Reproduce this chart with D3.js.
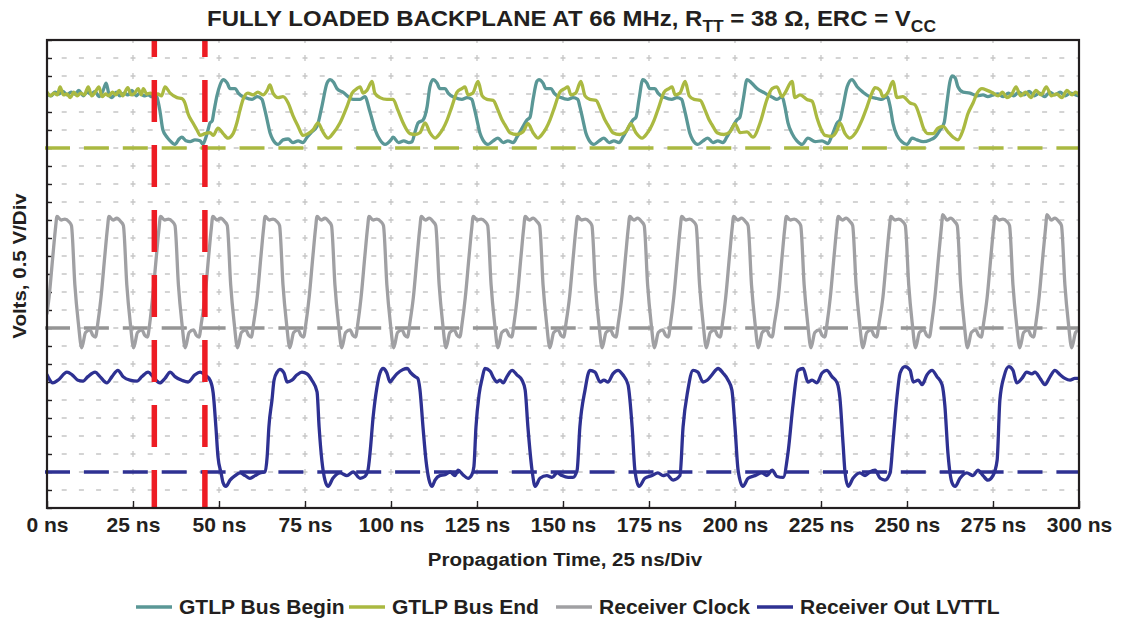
<!DOCTYPE html>
<html><head><meta charset="utf-8">
<script src="https://cdn.jsdelivr.net/npm/d3@7"></script>
<style>
body{margin:0;background:#fff}
text{font-family:"Liberation Sans",Arial,Helvetica,sans-serif;font-weight:bold;fill:#231f20}
</style>
</head><body>
<svg id="c" width="1122" height="621"></svg>
<script>
// ---------------- DATA ----------------
const xTickValues = [0,25,50,75,100,125,150,175,200,225,250,275,300];
const xTickUnit = " ns";
const titleParts = ["FULLY LOADED BACKPLANE AT 66 MHz, R","TT"," = 38 \u03A9, ERC = V","CC"];
const xTitle = "Propagation Time, 25 ns/Div";
const yTitle = "Volts, 0.5 V/Div";
const seriesNames = ["GTLP Bus Begin","GTLP Bus End","Receiver Clock","Receiver Out LVTTL"];
const seriesColors = ["#5a9796","#aab941","#a0a0a3","#2e3192"];
const refLevels = [20, 10, 2];            // dashed 0-V reference per trace (divisions)
const refColors = ["#aab941","#959595","#2e3192"];
const markerTimes = [31.2, 45.9];         // red dashed cursors (ns)

const gtlpBegin = [[0,23.0],[1.2,22.9],[2.3,23.1],[3.5,23.0],[4.7,23.15],[5.8,22.95],[7.0,23.1],[8.1,23.0],[9.3,23.2],[10.5,22.9],[11.6,23.1],[12.8,23.0],[14.0,23.15],[15.1,22.85],[16.3,23.2],[17.2,23.6],[18.0,23.0],[18.9,22.8],[20.1,23.1],[21.2,22.9],[22.4,23.05],[23.6,22.95],[24.7,23.2],[25.9,22.9],[27.0,23.05],[28.2,22.9],[29.4,22.95],[30.5,22.85],[31.4,23.0],[32.0,22.8],[32.8,22.1],[33.7,21.0],[34.9,20.6],[35.8,20.4],[37.2,20.2],[38.4,20.5],[39.2,20.6],[40.4,20.4],[41.6,20.35],[43.0,20.45],[44.5,20.4],[45.3,20.2],[46.2,20.6],[46.8,21.0],[47.4,21.4],[48.0,21.5],[48.5,22.0],[49.4,22.9],[50.3,23.5],[51.2,23.8],
[52.4,23.6],[53.2,23.3],[54.7,23.3],[55.6,23.05],[57.6,22.8],[59.6,22.7],[61.1,22.85],[62.5,22.7],[63.1,22.3],[64.0,21.55],[64.9,20.8],[65.7,20.45],[67.2,20.2],[68.6,20.45],[70.1,20.5],[71.5,20.3],[73.0,20.4],[74.4,20.3],[75.6,20.6],[77.0,20.9],[78.5,21.2],[79.9,22.3],[81.4,23.6],[82.3,23.8],
[83.3,23.65],[84.3,23.3],[86.0,23.1],[89.0,22.7],[91.0,22.7],[92.4,22.85],[93.9,22.0],[95.4,21.0],[96.8,20.45],[98.3,20.2],[100.0,20.45],[100.6,20.6],[102.2,20.3],[103.7,20.4],[105.2,20.3],[106.1,20.35],[107.0,20.9],[107.9,21.4],[109.3,21.55],[110.5,22.3],[111.3,23.4],[112.2,23.8],
[113.4,23.6],[114.2,23.3],[115.7,23.3],[116.6,23.05],[118.6,22.8],[120.6,22.7],[122.1,22.8],[123.5,22.7],[124.1,22.3],[125.0,21.55],[125.9,20.8],[126.7,20.45],[128.2,20.2],[129.7,20.4],[131.1,20.55],[132.6,20.3],[134.0,20.4],[135.5,20.3],[136.6,20.6],[137.5,20.9],[138.4,21.2],[139.5,21.55],[140.4,21.7],[141.3,22.7],[142.4,23.7],[143.0,23.8],
[144.2,23.6],[145.0,23.3],[146.5,23.3],[147.4,23.05],[149.4,22.8],[151.4,22.7],[152.9,22.8],[154.3,22.7],[154.9,22.3],[155.8,21.55],[156.7,20.8],[157.5,20.45],[159.0,20.2],[160.5,20.4],[161.9,20.55],[163.4,20.3],[164.8,20.4],[166.3,20.3],[167.4,20.6],[168.3,20.9],[169.2,21.2],[170.3,21.55],[171.2,21.7],[172.1,22.7],[173.2,23.8],
[174.4,23.6],[175.2,23.3],[176.7,23.3],[177.6,23.05],[179.6,22.8],[181.6,22.7],[183.1,22.8],[184.5,22.7],[185.1,22.3],[186.0,21.55],[186.9,20.8],[187.7,20.45],[189.2,20.2],[190.7,20.4],[192.1,20.55],[193.6,20.3],[195.0,20.4],[196.5,20.3],[197.6,20.6],[198.5,20.9],[199.4,21.2],[200.5,21.55],[201.4,21.7],[202.4,22.7],[203.5,23.8],
[204.9,23.6],[206.4,23.3],[208.7,23.05],[211.0,22.8],[212.2,22.7],[213.7,22.85],[214.5,22.3],[215.4,21.4],[216.6,20.8],[218.0,20.4],[219.5,20.2],[221.2,20.55],[223.3,20.35],[225.3,20.4],[227.0,20.25],[228.2,20.7],[229.7,21.4],[230.5,21.55],[231.4,22.3],[232.6,23.4],[234.0,23.8],[235.5,23.4],[237.2,23.1],[239.2,22.85],[241.3,22.75],[242.7,22.7],[244.2,22.85],[245.1,22.3],[245.9,21.4],[247.1,20.7],[248.5,20.35],[250.0,20.2],[251.5,20.55],[252.9,20.45],[254.7,20.35],[256.7,20.45],[258.1,20.6],[259.6,21.0],[260.8,21.4],[261.6,22.5],[262.5,23.7],[263.1,24.0],[264.0,23.9],[264.8,23.4],[266.3,23.1],[268.3,23.05],[270.4,22.9],[272.1,22.95],[273.5,22.85],[275.0,22.95],[276.5,23.0],[278.0,22.85],[279.5,23.05],[281.0,22.9],[282.5,23.1],[284.0,22.95],[285.5,23.15],[287.0,22.9],[288.5,23.05],[290.0,22.85],[291.5,23.1],[293.0,22.95],[294.5,23.1],[296.0,22.9],[297.5,23.05],[299.0,22.95],[300,22.9]];

const gtlpEnd = [[0,23.1],[1.0,22.9],[2.0,23.05],[3.0,22.95],[3.8,23.4],[4.8,22.95],[5.8,23.0],[6.8,22.8],[7.8,23.1],[8.8,22.9],[9.8,23.05],[10.8,22.95],[12.0,23.4],[13.0,22.9],[14.0,23.1],[15.1,23.4],[16.0,22.85],[17.0,23.0],[18.0,22.9],[19.0,23.1],[20.0,22.95],[21.0,23.2],[22.0,22.9],[23.5,23.35],[24.5,22.95],[25.5,23.05],[26.5,23.3],[27.4,22.95],[28.0,23.3],[29.0,23.0],[30.0,23.05],[31.2,22.95],[32.2,23.0],[33.3,22.9],[34.3,23.4],
[35.8,23.05],[37.8,22.8],[39.2,22.75],[40.1,22.5],[41.0,21.9],[42.4,21.4],[43.6,21.0],[44.5,20.7],[45.9,20.8],[47.4,20.85],[48.3,20.7],[49.7,21.1],[51.2,20.8],[52.6,20.55],[54.1,20.8],[55.2,21.4],[56.1,22.1],[57.0,22.7],[58.4,23.05],[59.9,22.95],[61.3,23.1],[62.8,22.95],[64.0,23.2],[64.8,23.5],[65.7,23.05],[67.2,22.8],[68.6,22.85],[70.1,22.5],[71.5,21.8],[73.0,21.2],[74.4,20.7],[75.9,20.8],[77.3,21.0],[78.8,21.4],[80.2,20.9],[81.7,20.55],
[83.1,20.8],[85.2,21.4],[87.2,22.3],[88.7,23.05],[90.1,23.3],[91.0,23.4],[91.9,23.05],[93.0,23.2],[94.5,23.7],[95.3,23.05],[96.8,22.8],[98.8,22.7],[100.6,22.7],[102.0,22.1],[103.5,21.4],[105.5,20.8],[107.0,20.75],[108.4,20.85],[109.9,21.4],[111.3,20.85],[112.8,20.55],
[114.2,20.8],[116.3,21.55],[117.7,22.3],[119.2,23.1],[120.6,23.3],[121.5,23.4],[122.4,22.95],[123.8,23.05],[125.3,23.7],[126.5,22.9],[127.9,22.7],[129.7,22.65],[131.1,22.1],[132.3,21.55],[133.1,21.3],[134.6,20.85],[136.6,20.75],[138.4,20.9],[139.8,21.35],[141.3,20.85],[142.7,20.55],
[144.1,20.8],[146.2,21.55],[147.6,22.3],[149.1,23.1],[150.5,23.3],[151.4,23.4],[152.3,22.95],[153.7,23.05],[155.2,23.7],[156.4,22.9],[157.8,22.7],[159.6,22.65],[161.0,22.1],[162.2,21.55],[163.0,21.3],[164.5,20.85],[166.5,20.75],[168.3,20.9],[169.7,21.35],[171.2,20.85],[173.0,20.55],
[174.4,20.8],[176.5,21.55],[177.9,22.3],[179.4,23.1],[180.8,23.3],[181.7,23.4],[182.6,22.95],[184.0,23.05],[185.5,23.7],[186.7,22.9],[188.1,22.7],[189.9,22.65],[191.3,22.1],[192.5,21.55],[193.3,21.3],[194.8,20.85],[196.8,20.75],[198.6,20.9],[200.0,21.35],[201.5,20.85],[203.5,20.9],[205.2,20.6],
[207.3,21.4],[209.3,22.7],[210.8,23.3],[212.2,23.4],[213.7,22.85],[214.5,23.05],[216.6,23.7],[217.4,22.8],[218.9,22.95],[220.9,22.7],[222.4,22.6],[223.8,21.7],[224.7,21.2],[226.2,20.7],[228.2,20.65],[229.7,21.0],[230.5,21.4],[232.0,20.8],[233.4,20.55],
[234.9,20.8],[236.9,21.55],[238.4,22.3],[239.8,23.05],[240.7,23.35],[242.2,23.2],[243.0,22.85],[244.5,23.1],[245.9,23.7],[247.1,22.8],[248.8,22.85],[250.9,22.5],[252.3,22.4],[253.8,21.7],[254.7,21.15],[256.1,20.8],[257.6,20.8],[259.0,21.1],[260.5,21.2],[261.9,20.9],[263.4,20.6],[264.8,20.45],
[266.3,21.0],[267.7,21.9],[269.2,22.5],[270.4,23.05],[271.8,23.3],[273.3,23.2],[275.0,23.05],[276.5,22.9],[277.8,23.1],[279.0,22.8],[280.5,23.0],[281.7,23.4],[283.0,22.9],[284.5,23.1],[286.0,22.8],[287.5,23.2],[289.0,22.95],[290.5,23.4],[292.0,22.9],[293.5,23.0],[295.0,22.8],[296.5,23.2],[298.0,22.95],[299.0,23.1],[300,22.95]];

const receiverClock = [[0,10.8],[0.6,11.7],[1.7,14.0],[2.5,15.6],[2.9,16.2],[4.1,16.0],[5.2,16.05],[6.4,15.9],[7.1,15.7],[8.1,12.4],[9.1,10.3],[10.1,8.9],[11.2,9.75],[12.5,9.9],[13.3,9.6],[14.1,9.5],[14.8,10.3],
[15.7,11.7],[16.8,14.0],[17.6,15.6],[18.0,16.2],[19.2,16.0],[20.3,16.1],[21.5,15.9],[22.2,15.7],[23.2,12.4],[24.2,10.3],[25.2,8.9],[26.3,9.75],[27.6,9.9],[28.4,9.6],[29.2,9.5],[29.9,10.3],
[30.7,11.7],[31.8,14.0],[32.6,15.6],[33.0,16.2],[34.2,16.0],[35.3,16.05],[36.5,15.9],[37.2,15.7],[38.2,12.4],[39.2,10.3],[40.2,8.9],[41.3,9.75],[42.6,9.9],[43.4,9.6],[44.2,9.5],[44.9,10.3],
[45.9,11.7],[47.0,14.0],[47.8,15.6],[48.2,16.2],[49.4,16.0],[50.5,16.1],[51.7,15.9],[52.4,15.7],[53.4,12.4],[54.4,10.3],[55.4,8.9],[56.5,9.75],[57.8,9.9],[58.6,9.6],[59.4,9.5],[60.1,10.3],
[61.1,11.7],[62.2,14.0],[63.0,15.6],[63.4,16.2],[64.6,16.0],[65.7,16.05],[66.9,15.9],[67.6,15.7],[68.6,12.4],[69.6,10.3],[70.6,8.9],[71.7,9.75],[73.0,9.9],[73.8,9.6],[74.6,9.5],[75.3,10.3],
[76.2,11.7],[77.3,14.0],[78.1,15.6],[78.5,16.2],[79.7,16.0],[80.8,16.1],[82.0,15.9],[82.7,15.7],[83.7,12.4],[84.7,10.3],[85.7,8.9],[86.8,9.75],[88.1,9.9],[88.9,9.6],[89.7,9.5],[90.4,10.3],
[91.3,11.7],[92.4,14.0],[93.2,15.6],[93.6,16.2],[94.8,16.0],[95.9,16.05],[97.1,15.9],[97.8,15.7],[98.8,12.4],[99.8,10.3],[100.8,8.9],[101.9,9.75],[103.2,9.9],[104.0,9.6],[104.8,9.5],[105.5,10.3],
[106.5,11.7],[107.6,14.0],[108.4,15.6],[108.8,16.2],[110.0,16.0],[111.1,16.1],[112.3,15.9],[113.0,15.7],[114.0,12.4],[115.0,10.3],[116.0,8.9],[117.1,9.75],[118.4,9.9],[119.2,9.6],[120.0,9.5],[120.7,10.3],
[121.6,11.7],[122.7,14.0],[123.5,15.6],[123.9,16.2],[125.1,16.0],[126.2,16.05],[127.4,15.9],[128.1,15.7],[129.1,12.4],[130.1,10.3],[131.1,8.9],[132.2,9.75],[133.5,9.9],[134.3,9.6],[135.1,9.5],[135.8,10.3],
[136.7,11.7],[137.8,14.0],[138.6,15.6],[139.0,16.2],[140.2,16.0],[141.3,16.1],[142.5,15.9],[143.2,15.7],[144.2,12.4],[145.2,10.3],[146.2,8.9],[147.3,9.75],[148.6,9.9],[149.4,9.6],[150.2,9.5],[150.9,10.3],
[151.9,11.7],[153.0,14.0],[153.8,15.6],[154.2,16.2],[155.4,16.0],[156.5,16.05],[157.7,15.9],[158.4,15.7],[159.4,12.4],[160.4,10.3],[161.4,8.9],[162.5,9.75],[163.8,9.9],[164.6,9.6],[165.4,9.5],[166.1,10.3],
[167.1,11.7],[168.2,14.0],[169.0,15.6],[169.4,16.2],[170.6,16.0],[171.7,16.1],[172.9,15.9],[173.6,15.7],[174.6,12.4],[175.6,10.3],[176.6,8.9],[177.7,9.75],[179.0,9.9],[179.8,9.6],[180.6,9.5],[181.3,10.3],
[182.2,11.7],[183.3,14.0],[184.1,15.6],[184.5,16.2],[185.7,16.0],[186.8,16.05],[188.0,15.9],[188.7,15.7],[189.7,12.4],[190.7,10.3],[191.7,8.9],[192.8,9.75],[194.1,9.9],[194.9,9.6],[195.7,9.5],[196.4,10.3],
[197.3,11.7],[198.4,14.0],[199.2,15.6],[199.6,16.2],[200.8,16.0],[201.9,16.1],[203.1,15.9],[203.8,15.7],[204.8,12.4],[205.8,10.3],[206.8,8.9],[207.9,9.75],[209.2,9.9],[210.0,9.6],[210.8,9.5],[211.5,10.3],
[212.6,11.7],[213.7,14.0],[214.5,15.6],[214.9,16.2],[216.1,16.0],[217.2,16.05],[218.4,15.9],[219.1,15.7],[220.1,12.4],[221.1,10.3],[222.1,8.9],[223.2,9.75],[224.5,9.9],[225.3,9.6],[226.1,9.5],[226.8,10.3],
[227.7,11.7],[228.8,14.0],[229.6,15.6],[230.0,16.2],[231.2,16.0],[232.3,16.1],[233.5,15.9],[234.2,15.7],[235.2,12.4],[236.2,10.3],[237.2,8.9],[238.3,9.75],[239.6,9.9],[240.4,9.6],[241.2,9.5],[241.9,10.3],
[243.0,11.7],[244.1,14.0],[244.9,15.6],[245.3,16.2],[246.5,16.0],[247.6,16.05],[248.8,15.9],[249.5,15.7],[250.5,12.4],[251.5,10.3],[252.5,8.9],[253.6,9.75],[254.9,9.9],[255.7,9.6],[256.5,9.5],[257.2,10.3],
[258.1,11.7],[259.2,14.0],[260.0,15.6],[260.4,16.3],[261.6,16.0],[262.7,16.1],[263.9,15.9],[264.6,15.7],[265.6,12.4],[266.6,10.3],[267.6,8.9],[268.7,9.75],[270.0,9.9],[270.8,9.6],[271.6,9.5],[272.3,10.3],
[273.3,11.7],[274.4,14.0],[275.2,15.6],[275.6,16.2],[276.8,16.0],[277.9,16.05],[279.1,15.9],[279.8,15.7],[280.8,12.4],[281.8,10.3],[282.8,8.9],[283.9,9.75],[285.2,9.9],[286.0,9.6],[286.8,9.5],[287.5,10.3],
[288.4,11.7],[289.5,14.0],[290.3,15.6],[290.7,16.3],[291.9,16.0],[293.0,16.1],[294.2,15.9],[294.9,15.7],[295.9,12.4],[296.9,10.3],[297.9,8.9],[299.0,9.75],[300,9.9]];

const receiverOut = [[0,7.4],[1.7,6.95],[3.2,7.1],[5.8,7.55],[7.3,7.4],[9.0,7.1],[10.5,7.05],[11.9,7.3],[14.0,7.55],[15.4,7.3],[17.4,6.95],[18.9,7.3],[20.6,7.65],[22.1,7.3],[24.1,7.1],[26.2,7.05],[27.6,7.3],[29.4,7.55],[30.8,7.3],[32.8,6.95],[34.3,7.2],[35.8,7.55],[37.2,7.3],[39.2,7.1],[41.0,7.0],[43.0,7.4],[44.5,7.55],[45.9,7.4],[47.4,7.1],[48.3,6.4],[49.1,4.5],[49.7,2.85],[50.6,1.95],[51.2,1.4],[52.0,1.2],[53.2,1.55],[54.7,1.8],[56.1,1.95],[57.6,1.8],[59.0,1.65],[60.5,1.8],[61.9,1.95],[63.4,2.0],[64.0,2.85],[64.5,4.5],[65.4,6.0],[66.0,7.1],[66.9,7.55],[67.7,7.7],[68.9,7.5],[69.8,7.0],[71.2,7.1],[72.7,7.4],[74.1,7.55],[75.6,7.45],[77.0,7.1],[78.5,6.45],[79.1,4.5],[79.9,2.65],[80.8,1.55],[81.7,1.2],[83.1,1.65],[85.2,1.95],[87.2,1.8],[89.0,2.0],[91.0,1.65],[92.4,1.75],[93.3,2.1],[93.9,3.05],[94.8,5.05],[95.9,6.7],[96.8,7.5],[97.7,7.75],[98.8,7.5],[99.7,7.0],[100.6,7.2],[101.7,7.45],[103.5,7.7],[104.7,7.75],[105.8,7.5],[107.0,7.3],[107.8,7.2],[108.4,6.6],[109.3,4.5],[110.2,2.6],[111.0,1.6],[111.9,1.2],[112.8,1.55],[114.2,1.8],[115.7,1.85],[117.2,2.0],[118.6,1.8],[119.5,2.1],[120.9,1.85],[122.4,1.65],[123.5,1.85],[124.1,2.3],[124.7,4.5],[125.6,6.3],[126.5,7.2],[127.3,7.75],[128.8,7.6],[129.9,7.2],[130.8,7.0],[131.7,7.1],[132.6,6.95],[133.7,7.3],[135.2,7.65],[136.6,7.4],[138.1,7.1],[139.0,6.55],[139.8,4.5],[141.0,2.1],[141.9,1.2],[143.3,1.65],[145.3,1.8],[146.8,1.7],[148.3,1.95],[149.7,1.8],[151.5,1.7],[152.9,1.7],[154.1,2.1],[154.9,4.5],[156.4,6.55],[157.8,7.65],[159.3,7.55],[160.8,7.0],[161.9,7.1],[163.1,7.0],[164.5,7.45],[166.0,7.65],[167.4,7.4],[168.9,6.85],[170.1,4.5],[170.9,2.1],[172.1,1.2],[173.8,1.65],[175.9,1.8],[177.6,1.95],[179.1,1.8],[180.2,1.85],[182.0,1.55],[184.0,1.8],[184.9,4.5],[186.3,6.55],[187.8,7.65],[189.2,7.55],[190.7,7.0],[191.9,7.1],[193.3,7.4],[195.1,7.75],[196.5,7.5],[198.0,7.1],[199.1,6.55],[200.0,4.5],[200.9,2.1],[202.3,1.2],[203.8,1.65],[205.8,1.8],[207.8,1.95],[209.3,1.8],[210.8,2.1],[212.2,1.75],[214.0,1.7],[215.4,3.05],[216.9,5.8],[218.3,7.65],[219.8,7.75],[221.2,7.0],[222.4,7.1],[223.8,6.95],[225.3,7.5],[226.7,7.65],[228.2,7.3],[229.7,6.95],[230.5,6.1],[231.4,3.6],[232.0,1.95],[232.9,1.2],[234.3,1.65],[236.3,1.95],[237.8,1.8],[239.2,2.0],[240.7,2.1],[242.2,1.65],[243.6,1.55],[245.1,1.95],[245.9,3.6],[247.1,6.2],[248.0,7.5],[249.4,7.85],[250.9,7.65],[251.8,7.0],[253.3,7.1],[254.4,6.85],[255.8,7.4],[257.3,7.65],[258.7,7.3],[260.2,6.85],[261.0,5.7],[261.9,3.05],[263.1,1.4],[264.0,1.2],[265.4,1.65],[267.4,1.95],[269.2,1.8],[270.6,2.1],[272.1,1.8],[273.5,1.55],[275.0,1.8],[276.2,2.65],[277.0,6.0],[278.2,7.3],[279.6,7.85],[280.8,7.65],[281.9,6.95],[283.4,7.2],[284.8,7.55],[286.3,7.45],[287.2,7.55],[288.7,7.2],[290.1,6.85],[291.6,7.3],[293.0,7.65],[294.5,7.4],[295.9,7.2],[297.4,7.1],[298.8,7.2],[300,7.2]];

// ---------------- LAYOUT ----------------
const svg = d3.select("#c");
const P = {l:47, r:1079, t:40, b:508};
const x = d3.scaleLinear().domain([0,300]).range([P.l, P.r]);
const y = d3.scaleLinear().domain([0,26]).range([P.b, P.t]);
const SX = 1.08;

svg.append("defs").append("clipPath").attr("id","plot")
  .append("rect").attr("x",P.l).attr("y",P.t).attr("width",P.r-P.l).attr("height",P.b-P.t);

// grid
const grid = svg.append("g");
grid.selectAll("line.h").data(y.ticks(26).filter(d=>d>0&&d<26)).join("line")
  .attr("x1",P.l).attr("x2",P.r).attr("y1",d=>y(d)).attr("y2",d=>y(d))
  .attr("stroke","#c6c6c6").attr("stroke-width",1.3)
  .attr("stroke-dasharray","5,12.2").attr("stroke-dashoffset",2.5);
grid.selectAll("line.v").data(xTickValues.slice(1,-1)).join("line")
  .attr("x1",d=>x(d)).attr("x2",d=>x(d)).attr("y1",P.t).attr("y2",P.b)
  .attr("stroke","#c6c6c6").attr("stroke-width",1.3)
  .attr("stroke-dasharray","6,12").attr("stroke-dashoffset",3);

// y ticks (no labels)
const yAx = svg.append("g").attr("transform",`translate(${P.l},0)`)
  .call(d3.axisLeft(y).ticks(26).tickSize(-5).tickFormat(""));
yAx.select(".domain").remove();
yAx.selectAll("line").attr("stroke","#231f20").attr("stroke-width",1.4);

// x axis
const xAx = svg.append("g").attr("transform",`translate(0,${P.b})`)
  .call(d3.axisBottom(x).tickValues(xTickValues).tickSize(-7).tickPadding(10).tickFormat(d=>d+xTickUnit));
xAx.select(".domain").remove();
xAx.selectAll("line").attr("stroke","#231f20").attr("stroke-width",1.4);
xAx.selectAll("text").attr("fill","#231f20").style("font-size","19.5px")
  .style("font-family",'"Liberation Sans",Arial,sans-serif').style("font-weight","bold")
  .attr("transform",`scale(${SX},1)`);

// reference dashed levels
svg.append("g").selectAll("line").data(refLevels).join("line")
  .attr("x1",P.l-2).attr("x2",P.r).attr("y1",d=>y(d)).attr("y2",d=>y(d))
  .attr("stroke",(d,i)=>refColors[i]).attr("stroke-width",3.6)
  .attr("stroke-dasharray","25,13.9");

// traces
const line = d3.line().x(d=>x(d[0])).y(d=>y(d[1])).curve(d3.curveMonotoneX);
const traces = [gtlpBegin, gtlpEnd, receiverClock, receiverOut];
svg.append("g").attr("clip-path","url(#plot)").selectAll("path").data(traces).join("path")
  .attr("d",line).attr("fill","none")
  .attr("stroke",(d,i)=>seriesColors[i]).attr("stroke-width",3.3)
  .attr("stroke-linejoin","round").attr("stroke-linecap","round");

// red cursors
svg.append("g").selectAll("line").data(markerTimes).join("line")
  .attr("x1",d=>x(d)).attr("x2",d=>x(d)).attr("y1",P.t).attr("y2",P.b)
  .attr("stroke","#ed1c24").attr("stroke-width",5.5)
  .attr("stroke-dasharray","42,23").attr("stroke-dashoffset",25);

// frame
svg.append("rect").attr("x",P.l).attr("y",P.t).attr("width",P.r-P.l).attr("height",P.b-P.t)
  .attr("fill","none").attr("stroke","#231f20").attr("stroke-width",2.2);

// title
const title = svg.append("text").attr("text-anchor","middle")
  .attr("transform",`translate(571.5,26) scale(1.09,1)`).style("font-size","22px");
title.append("tspan").text(titleParts[0]);
title.append("tspan").attr("dy",6).style("font-size","16px").text(titleParts[1]);
title.append("tspan").attr("dy",-6).text(titleParts[2]);
title.append("tspan").attr("dy",6).style("font-size","16px").text(titleParts[3]);

// axis titles
svg.append("text").attr("text-anchor","middle")
  .attr("transform",`translate(565,566) scale(${SX},1)`).style("font-size","19px").text(xTitle);
svg.append("text").attr("text-anchor","middle")
  .attr("transform",`translate(25.5,266) rotate(-90) scale(${SX},1)`).style("font-size","19px").text(yTitle);

// legend
const legX = [136, 349, 556, 757];
const leg = svg.append("g").selectAll("g").data(seriesNames).join("g")
  .attr("transform",(d,i)=>`translate(${legX[i]},0)`);
leg.append("line").attr("x1",0).attr("x2",36).attr("y1",607).attr("y2",607)
  .attr("stroke",(d,i)=>seriesColors[i]).attr("stroke-width",3.5);
leg.append("text").attr("transform",`translate(43,614) scale(${SX},1)`)
  .style("font-size","19.5px").text(d=>d);
</script>
</body></html>
